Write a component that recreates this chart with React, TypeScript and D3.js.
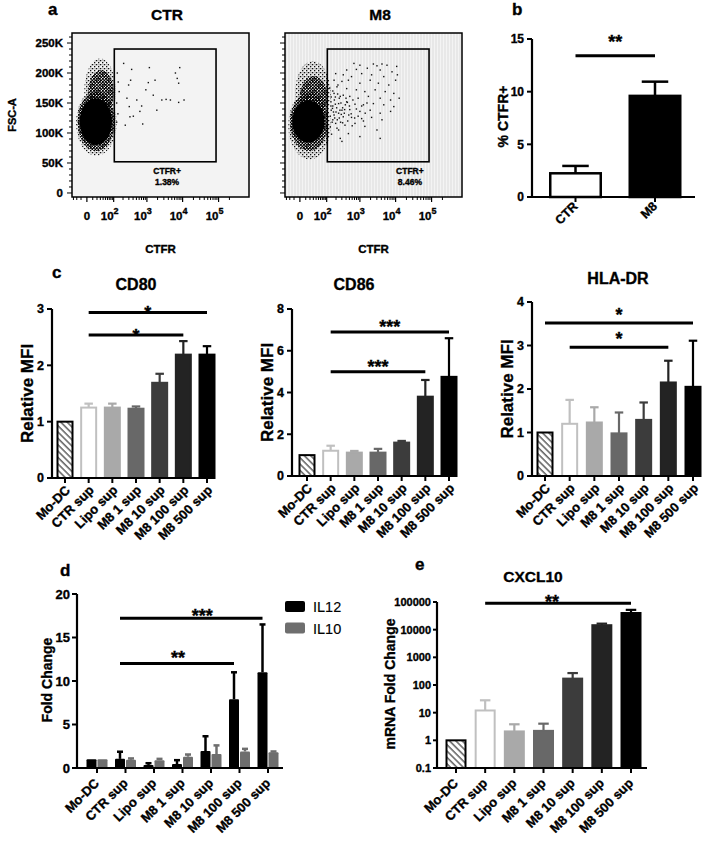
import React from "react";
import * as d3 from "d3";

const FONT = "'Liberation Sans', Arial, Helvetica, sans-serif";

// ---------------- Panel a : flow cytometry ----------------
const flowSamples = ["CTR", "M8"];
const flowGatePercent = ["1.38%", "8.46%"];
const fscTickValues = [0, 50000, 100000, 150000, 200000, 250000];
const fscTickLabels = ["0", "50K", "100K", "150K", "200K", "250K"];
const ctfrMajorTicks = [0, 100, 1000, 10000, 100000];
const ctfrMajorExponents = ["", "2", "3", "4", "5"];
const ctfrLinearMinor = [-30, -20, -10, 10, 20, 30, 40, 50, 60, 70, 80, 90];
const gateCTFR = [105, 85000];
const gateFSC = [52000, 240000];
const gateLabelCTFR = [3700, 25000];
// event cloud outlines: [CTFR lo, CTFR hi, FSC lo, FSC hi, density level]
const ctrCloud = [
  [-22, 125, 62000, 172000, 0],
  [-4, 118, 115000, 224000, 0],
  [-18, 108, 70000, 168000, 1],
  [2, 100, 130000, 205000, 1],
  [-13, 88, 80000, 158000, 2],
];
const m8Cloud = [
  [-24, 135, 56000, 170000, 0],
  [-8, 135, 110000, 220000, 0],
  [-19, 110, 70000, 166000, 1],
  [0, 105, 125000, 195000, 1],
  [-14, 85, 84000, 154000, 2],
];
// sparse events: [log10 CTFR, FSC (K)]
const ctrEvents = [
  [2.32, 216], [2.56, 206], [3.07, 209], [3.92, 209], [3.8, 200], [3.85, 191],
  [2.53, 188], [3.23, 188], [3.04, 184], [2.47, 180], [3.89, 183], [2.97, 172],
  [2.18, 169], [2.42, 158], [2.71, 155], [3.18, 163], [3.54, 156], [3.66, 155],
  [3.42, 155], [3.89, 151], [4.04, 155], [2.49, 144], [2.85, 145], [3.28, 138],
  [2.8, 136], [2.51, 127], [2.61, 128], [2.88, 115], [2.37, 113], [2.12, 200],
  [2.15, 185], [2.1, 150], [2.14, 132], [2.1, 118],
];
const m8Events = [
  [2.83, 216], [3.0, 213], [3.38, 215], [3.48, 212], [3.62, 215], [3.76, 213], [4.03, 211],
  [2.62, 205], [2.9, 206], [3.21, 208], [3.57, 205], [3.9, 202], [2.29, 199], [2.52, 197],
  [2.76, 194], [3.05, 199], [3.33, 197], [3.67, 194], [4.05, 197], [2.24, 188], [2.48, 186],
  [2.67, 188], [3.0, 183], [3.29, 188], [3.52, 183], [3.81, 180], [4.0, 188], [2.33, 177],
  [2.62, 174], [2.9, 172], [3.14, 169], [3.43, 172], [3.71, 169], [3.95, 166], [2.24, 166],
  [2.43, 161], [2.71, 161], [2.95, 158], [3.24, 161], [3.57, 158], [3.86, 155], [4.1, 158],
  [2.14, 152], [2.38, 149], [2.62, 152], [2.86, 148], [3.1, 147], [3.38, 149], [3.67, 147],
  [3.95, 144], [2.19, 141], [2.48, 138], [2.71, 139], [3.0, 136], [3.29, 138], [3.57, 133],
  [3.86, 136], [2.24, 130], [2.52, 127], [2.76, 126], [3.05, 124], [3.33, 126], [3.62, 122],
  [2.29, 116], [2.57, 113], [2.86, 116], [3.14, 111], [3.48, 105], [2.38, 105], [2.67, 99],
  [2.43, 91], [3.0, 94], [3.57, 91], [2.48, 86], [2.15, 160], [2.2, 145], [2.25, 155],
  [2.3, 135], [2.35, 165], [2.4, 125], [2.45, 150], [2.5, 142], [2.55, 133], [2.6, 158],
  [2.65, 120], [2.7, 145], [2.75, 132], [2.8, 155], [2.85, 125], [2.9, 140], [2.12, 128],
  [2.18, 118], [2.28, 148], [2.33, 108], [2.42, 138], [2.5, 117], [2.58, 147], [2.68, 130],
  [2.78, 112], [2.95, 128], [3.05, 145], [3.15, 133], [3.2, 150], [3.1, 120], [2.2, 170],
  [2.36, 180], [2.15, 138], [2.26, 125], [2.4, 158], [2.1, 175], [2.12, 110], [2.16, 98],
  [2.22, 135], [2.32, 142], [2.46, 131], [2.56, 139], [2.64, 151], [2.34, 122], [2.2, 122],
  [2.28, 160], [2.52, 163], [2.44, 118], [2.14, 145], [2.38, 133],
];

// ---------------- Panel b ----------------
const bCategories = ["CTR", "M8"];
const bValues = [2.25, 9.6];
const bErrors = [2.95, 10.95];
const bTicks = [0, 5, 10, 15];
const bSig: [string, string, number, string][] = [["CTR", "M8", 13.4, "**"]];

// ---------------- Panel c ----------------
const groups = ["Mo-DC", "CTR sup", "Lipo sup", "M8 1 sup", "M8 10 sup", "M8 100 sup", "M8 500 sup"];
const groupFill = ["url(#hatch)", "#ffffff", "#a9a9a9", "#686868", "#3c3c3c", "#232323", "#000000"];
const groupStroke = ["#000000", "#c0c0c0", "#a9a9a9", "#686868", "#3c3c3c", "#232323", "#000000"];

const cd80Values = [1.0, 1.25, 1.25, 1.23, 1.69, 2.19, 2.19];
const cd80Err = [null, 1.32, 1.32, 1.27, 1.85, 2.43, 2.34];
const cd80Ticks = [0, 1, 2, 3];
const cd80Sig: [string, string, number, string][] = [
  ["CTR sup", "M8 100 sup", 2.54, "*"],
  ["CTR sup", "M8 500 sup", 2.94, "*"],
];

const cd86Values = [1.0, 1.21, 1.12, 1.12, 1.6, 3.8, 4.75];
const cd86Err = [null, 1.45, 1.2, 1.3, 1.68, 4.6, 6.6];
const cd86Ticks = [0, 2, 4, 6, 8];
const cd86Sig: [string, string, number, string][] = [
  ["CTR sup", "M8 100 sup", 5.0, "***"],
  ["CTR sup", "M8 500 sup", 6.9, "***"],
];

const hlaValues = [1.0, 1.2, 1.23, 0.98, 1.29, 2.15, 2.05];
const hlaErr = [null, 1.75, 1.58, 1.46, 1.69, 2.65, 3.11];
const hlaTicks = [0, 1, 2, 3, 4];
const hlaSig: [string, string, number, string][] = [
  ["Mo-DC", "M8 500 sup", 3.52, "*"],
  ["CTR sup", "M8 100 sup", 2.96, "*"],
];

// ---------------- Panel d ----------------
const cytokines = ["IL12", "IL10"];
const cytokineColors = ["#000000", "#6e6e6e"];
const il12Values = [1.0, 1.05, 0.35, 0.45, 1.95, 7.9, 11.0];
const il12Err = [null, 1.87, 0.55, 0.9, 3.65, 11.0, 16.5];
const il10Values = [1.0, 0.95, 0.9, 1.3, 1.6, 1.9, 1.8];
const il10Err = [null, 1.1, 1.05, 1.55, 2.6, 2.2, 1.9];
const dTicks = [0, 5, 10, 15, 20];
const dSig: [string, string, number, string][] = [
  ["CTR sup", "M8 100 sup", 12.0, "**"],
  ["CTR sup", "M8 500 sup", 17.2, "***"],
];

// ---------------- Panel e ----------------
const cxcl10Values = [1, 12, 2.1, 2.2, 170, 14500, 40000];
const cxcl10Err = [null, 28, 3.8, 4.0, 270, 16500, 52000];
const eTicks = [0.1, 1, 10, 100, 1000, 10000, 100000];
const eTickLabels = ["0.1", "1", "10", "100", "1000", "10000", "100000"];
const eSig: [string, string, number, string][] = [["CTR sup", "M8 500 sup", 91000, "**"]];

// ============================================================

function FlowPlot({ idx, ox }: { idx: number; ox: number }) {
  const x = d3.scaleSymlog().constant(22).domain([-35, 700000]).range([72 + ox, 249 + ox]);
  const y = d3.scaleLinear().domain([-6700, 266700]).range([197, 33]);
  const cloud = idx === 0 ? ctrCloud : m8Cloud;
  const events = idx === 0 ? ctrEvents : m8Events;
  const [xl, xr] = x.range();
  const [yb, yt] = y.range();
  const minorX: number[] = [...ctfrLinearMinor];
  [100, 1000, 10000].forEach((dec) => d3.range(2, 10).forEach((m) => minorX.push(dec * m)));
  minorX.push(200000);
  const minorY = d3.range(0, 260001, 10000);
  const cloudFill = ["url(#dotsSparse)", "url(#dotsDense)", "#000"];
  const midX = (xl + xr) / 2;
  return (
    <g>
      <text x={idx === 0 ? 167 : 380} y={20} textAnchor="middle" fontSize={15.5} fontWeight="bold">
        {flowSamples[idx]}
      </text>
      <rect x={xl} y={yt} width={xr - xl} height={yb - yt} fill={idx === 0 ? "#f3f3f3" : "url(#stripes)"} />
      <clipPath id={`flowclip${idx}`}>
        <rect x={xl} y={yt} width={xr - xl} height={yb - yt} />
      </clipPath>
      <g clipPath={`url(#flowclip${idx})`}>
        {cloud.map((c, i) => {
          const x0 = x(c[0]), x1 = x(c[1]), y0 = y(c[2]), y1 = y(c[3]);
          return (
            <ellipse key={i} cx={(x0 + x1) / 2} cy={(y0 + y1) / 2} rx={(x1 - x0) / 2} ry={(y0 - y1) / 2} fill={cloudFill[c[4]]} />
          );
        })}
        {events.map((e, i) => (
          <rect key={i} x={x(Math.pow(10, e[0])) - 0.7} y={y(e[1] * 1000) - 0.7} width={1.4} height={1.4} fill="#111" />
        ))}
      </g>
      <rect x={xl} y={yt} width={xr - xl} height={yb - yt} fill="none" stroke="#000" strokeWidth={1.5} />
      <rect x={x(gateCTFR[0])} y={y(gateFSC[1])} width={x(gateCTFR[1]) - x(gateCTFR[0])} height={y(gateFSC[0]) - y(gateFSC[1])} fill="none" stroke="#000" strokeWidth={1.6} />
      <text x={x(gateLabelCTFR[idx])} y={174} textAnchor="middle" fontSize={8.5} fontWeight="bold">CTFR+</text>
      <text x={x(gateLabelCTFR[idx])} y={185} textAnchor="middle" fontSize={8.5} fontWeight="bold">{flowGatePercent[idx]}</text>
      {minorY.map((t) => (
        <line key={t} x1={xl} x2={xl - (t % 50000 === 0 ? 5 : 3)} y1={y(t)} y2={y(t)} stroke="#000" strokeWidth={1} />
      ))}
      {idx === 0 &&
        fscTickValues.map((t, i) => (
          <text key={t} x={63} y={y(t) + 4} textAnchor="end" fontSize={11.5} fontWeight="bold">
            {fscTickLabels[i]}
          </text>
        ))}
      {minorX.map((t) => (
        <line key={t} x1={x(t)} x2={x(t)} y1={yb} y2={yb + 3} stroke="#000" strokeWidth={1} />
      ))}
      {ctfrMajorTicks.map((t) => (
        <line key={"M" + t} x1={x(t)} x2={x(t)} y1={yb} y2={yb + 5} stroke="#000" strokeWidth={1.2} />
      ))}
      {ctfrMajorTicks.map((t, i) => (
        <text key={"L" + t} x={x(t) - (i === 0 ? 0 : 4)} y={220} textAnchor="middle" fontSize={11.5} fontWeight="bold">
          {i === 0 ? "0" : "10"}
          {i > 0 && (
            <tspan dy={-6} fontSize={9}>
              {ctfrMajorExponents[i]}
            </tspan>
          )}
        </text>
      ))}
      <text x={midX} y={253} textAnchor="middle" fontSize={11.5} fontWeight="bold">CTFR</text>
      {idx === 0 && (
        <text transform={`translate(15.5,115) rotate(-90)`} textAnchor="middle" fontSize={11} fontWeight="bold">
          FSC-A
        </text>
      )}
    </g>
  );
}

function Star({ x, y, label, size = 18 }: { x: number; y: number; label: string; size?: number }) {
  return (
    <text x={x} y={y} textAnchor="middle" fontSize={size} fontWeight="bold">
      {label}
    </text>
  );
}

function PanelB() {
  const x = d3.scalePoint<string>().domain(bCategories).range([575.5, 655]);
  const y = d3.scaleLinear().domain([0, 15]).range([197, 39]);
  const bw = 53;
  return (
    <g>
      <text x={512} y={15} fontSize={17} fontWeight="bold">b</text>
      {bValues.map((v, i) => {
        const cx = x(bCategories[i])!;
        const col = i === 0 ? "#fff" : "#000";
        return (
          <g key={i}>
            <line x1={cx} x2={cx} y1={y(v)} y2={y(bErrors[i])} stroke="#000" strokeWidth={2.5} />
            <line x1={cx - bw / 4} x2={cx + bw / 4} y1={y(bErrors[i])} y2={y(bErrors[i])} stroke="#000" strokeWidth={2.5} />
            <rect x={cx - bw / 2 + 1.25} y={y(v)} width={bw - 2.5} height={y(0) - y(v)} fill={col} stroke="#000" strokeWidth={2.5} />
          </g>
        );
      })}
      <line x1={532} x2={532} y1={y(0) + 1} y2={y(15)} stroke="#000" strokeWidth={2.2} />
      <line x1={531} x2={695} y1={y(0)} y2={y(0)} stroke="#000" strokeWidth={2.2} />
      {bTicks.map((t) => (
        <g key={t}>
          <line x1={527} x2={532} y1={y(t)} y2={y(t)} stroke="#000" strokeWidth={2} />
          <text x={524} y={y(t) + 4.3} textAnchor="end" fontSize={12} fontWeight="bold">{t}</text>
        </g>
      ))}
      {bCategories.map((c) => (
        <g key={c}>
          <line x1={x(c)!} x2={x(c)!} y1={y(0)} y2={y(0) + 5} stroke="#000" strokeWidth={2} />
          <text transform={`translate(${x(c)! + 3},${y(0) + 10}) rotate(-45)`} textAnchor="end" fontSize={12.5} fontWeight="bold">
            {c}
          </text>
        </g>
      ))}
      {bSig.map((s, i) => (
        <g key={i}>
          <line x1={x(s[0])!} x2={x(s[1])!} y1={y(s[2])} y2={y(s[2])} stroke="#000" strokeWidth={3} />
          <Star x={(x(s[0])! + x(s[1])!) / 2} y={y(s[2]) - 8} label={s[3]} />
        </g>
      ))}
      <text transform={`translate(508,116.5) rotate(-90)`} textAnchor="middle" fontSize={14} fontWeight="bold">
        % CTFR+
      </text>
    </g>
  );
}

type Sig = [string, string, number, string];

function MfiPanel(p: {
  title: string; titleX: number; titleY: number;
  values: number[]; errs: (number | null)[];
  domainMax: number; ticks: number[];
  cx0: number; cx1: number; ax0: number; ax1: number;
  y0: number; y1: number; barW: number; sigs: Sig[]; starDy: number;
}) {
  const x = d3.scalePoint<string>().domain(groups).range([p.cx0, p.cx1]);
  const y = d3.scaleLinear().domain([0, p.domainMax]).range([p.y0, p.y1]);
  const bw = p.barW;
  return (
    <g>
      <text x={p.titleX} y={p.titleY} textAnchor="middle" fontSize={16} fontWeight="bold">{p.title}</text>
      {p.values.map((v, i) => {
        const cx = x(groups[i])!;
        const e = p.errs[i];
        return (
          <g key={i}>
            {e != null && (
              <g>
                <line x1={cx} x2={cx} y1={y(v)} y2={y(e)} stroke={groupStroke[i]} strokeWidth={2.2} />
                <line x1={cx - bw / 4} x2={cx + bw / 4} y1={y(e)} y2={y(e)} stroke={groupStroke[i]} strokeWidth={2.2} />
              </g>
            )}
            <rect x={cx - bw / 2 + 1} y={y(v)} width={bw - 2} height={p.y0 - y(v)} fill={groupFill[i]} stroke={groupStroke[i]} strokeWidth={2} />
          </g>
        );
      })}
      <line x1={p.ax0} x2={p.ax0} y1={p.y0 + 1} y2={p.y1} stroke="#000" strokeWidth={2.2} />
      <line x1={p.ax0 - 1} x2={p.ax1} y1={p.y0} y2={p.y0} stroke="#000" strokeWidth={2.2} />
      {p.ticks.map((t) => (
        <g key={t}>
          <line x1={p.ax0 - 5} x2={p.ax0} y1={y(t)} y2={y(t)} stroke="#000" strokeWidth={2} />
          <text x={p.ax0 - 8} y={y(t) + 4.4} textAnchor="end" fontSize={12.5} fontWeight="bold">{t}</text>
        </g>
      ))}
      {groups.map((g) => (
        <g key={g}>
          <line x1={x(g)!} x2={x(g)!} y1={p.y0} y2={p.y0 + 5} stroke="#000" strokeWidth={2} />
          <text transform={`translate(${x(g)! + 6},${p.y0 + 13}) rotate(-45)`} textAnchor="end" fontSize={13} fontWeight="bold">
            {g}
          </text>
        </g>
      ))}
      {p.sigs.map((s, i) => (
        <g key={i}>
          <line x1={x(s[0])!} x2={x(s[1])!} y1={y(s[2])} y2={y(s[2])} stroke="#000" strokeWidth={3} />
          <Star x={(x(s[0])! + x(s[1])!) / 2} y={y(s[2]) + p.starDy} label={s[3]} />
        </g>
      ))}
      <text transform={`translate(${p.ax0 - 19},${(p.y0 + p.y1) / 2}) rotate(-90)`} textAnchor="middle" fontSize={17} fontWeight="bold">
        Relative MFI
      </text>
    </g>
  );
}

function PanelD() {
  const x = d3.scalePoint<string>().domain(groups).range([97, 268]);
  const y = d3.scaleLinear().domain([0, 20]).range([768, 594]);
  const bw = 10;
  const series = [
    { v: il12Values, e: il12Err, off: -5.5 },
    { v: il10Values, e: il10Err, off: 5.5 },
  ];
  return (
    <g>
      <text x={60} y={576} fontSize={17} fontWeight="bold">d</text>
      {series.map((s, si) =>
        s.v.map((v, i) => {
          const cx = x(groups[i])! + s.off;
          const e = s.e[i];
          const col = cytokineColors[si];
          return (
            <g key={si + "-" + i}>
              {e != null && (
                <g>
                  <line x1={cx} x2={cx} y1={y(v)} y2={y(e)} stroke={col} strokeWidth={2.5} />
                  <line x1={cx - 3} x2={cx + 3} y1={y(e)} y2={y(e)} stroke={col} strokeWidth={2.5} />
                </g>
              )}
              <rect x={cx - bw / 2} y={y(v)} width={bw} height={768 - y(v)} fill={col} rx={1} />
            </g>
          );
        })
      )}
      <line x1={77} x2={77} y1={769} y2={594} stroke="#000" strokeWidth={2.2} />
      <line x1={76} x2={283} y1={768} y2={768} stroke="#000" strokeWidth={2.2} />
      {dTicks.map((t) => (
        <g key={t}>
          <line x1={72} x2={77} y1={y(t)} y2={y(t)} stroke="#000" strokeWidth={2} />
          <text x={70} y={y(t) + 4.5} textAnchor="end" fontSize={13} fontWeight="bold">{t}</text>
        </g>
      ))}
      {groups.map((g) => (
        <g key={g}>
          <line x1={x(g)!} x2={x(g)!} y1={768} y2={773} stroke="#000" strokeWidth={2} />
          <text transform={`translate(${x(g)! + 3},${784}) rotate(-45)`} textAnchor="end" fontSize={13} fontWeight="bold">
            {g}
          </text>
        </g>
      ))}
      {dSig.map((s, i) => {
        const a = x(s[0])! - 5.5, b = x(s[1])! - 5.5;
        return (
          <g key={i}>
            <line x1={a} x2={b} y1={y(s[2])} y2={y(s[2])} stroke="#000" strokeWidth={3} />
            <Star x={(a + b) / 2 + (i === 1 ? 11 : 1)} y={y(s[2]) + (i === 1 ? 4 : 0)} label={s[3]} />
          </g>
        );
      })}
      {cytokines.map((c, i) => (
        <g key={c}>
          <rect x={285} y={601 + i * 21.5} width={20} height={11} rx={2} fill={cytokineColors[i]} />
          <text x={313} y={612 + i * 21.5} fontSize={14.5} style={{ strokeWidth: 0.15 }}>{c}</text>
        </g>
      ))}
      <text transform={`translate(52,680) rotate(-90)`} textAnchor="middle" fontSize={14} fontWeight="bold">
        Fold Change
      </text>
    </g>
  );
}

function PanelE() {
  const x = d3.scalePoint<string>().domain(groups).range([456, 631]);
  const y = d3.scaleLog().domain([0.1, 100000]).range([768, 602]);
  const bw = 21;
  return (
    <g>
      <text x={415} y={570} fontSize={17} fontWeight="bold">e</text>
      <text x={533} y={582} textAnchor="middle" fontSize={15.5} fontWeight="bold">CXCL10</text>
      {cxcl10Values.map((v, i) => {
        const cx = x(groups[i])!;
        const e = cxcl10Err[i];
        return (
          <g key={i}>
            {e != null && (
              <g>
                <line x1={cx} x2={cx} y1={y(v)} y2={y(e)} stroke={groupStroke[i]} strokeWidth={2.2} />
                <line x1={cx - bw / 4} x2={cx + bw / 4} y1={y(e)} y2={y(e)} stroke={groupStroke[i]} strokeWidth={2.2} />
              </g>
            )}
            <rect x={cx - bw / 2 + 1} y={y(v)} width={bw - 2} height={768 - y(v)} fill={groupFill[i]} stroke={groupStroke[i]} strokeWidth={2} />
          </g>
        );
      })}
      <line x1={437} x2={437} y1={769} y2={602} stroke="#000" strokeWidth={2.2} />
      <line x1={436} x2={647} y1={768} y2={768} stroke="#000" strokeWidth={2.2} />
      {eTicks.map((t, i) => (
        <g key={t}>
          <line x1={433} x2={437} y1={y(t)} y2={y(t)} stroke="#000" strokeWidth={2} />
          <text x={431} y={y(t) + 4} textAnchor="end" fontSize={11} fontWeight="bold">{eTickLabels[i]}</text>
        </g>
      ))}
      {groups.map((g) => (
        <g key={g}>
          <line x1={x(g)!} x2={x(g)!} y1={768} y2={773} stroke="#000" strokeWidth={2} />
          <text transform={`translate(${x(g)! + 3},${784}) rotate(-45)`} textAnchor="end" fontSize={13} fontWeight="bold">
            {g}
          </text>
        </g>
      ))}
      {eSig.map((s, i) => (
        <g key={i}>
          <line x1={x(s[0])!} x2={x(s[1])!} y1={y(s[2])} y2={y(s[2])} stroke="#000" strokeWidth={3} />
          <Star x={(x(s[0])! + x(s[1])!) / 2 - 6} y={y(s[2]) + 5} label={s[3]} />
        </g>
      ))}
      <text transform={`translate(395,684) rotate(-90)`} textAnchor="middle" fontSize={14} fontWeight="bold">
        mRNA Fold Change
      </text>
    </g>
  );
}

export default function App() {
  return (
    <svg width={708} height={849} style={{ position: "absolute", left: 0, top: 0, display: "block", background: "#fff" }} fontFamily={FONT}>
      <style>{"text{stroke:#000;stroke-width:0.35px;}"}</style>
      <defs>
        <pattern id="hatch" width={4.5} height={4.5} patternUnits="userSpaceOnUse" patternTransform="rotate(-45)">
          <rect width={4.5} height={4.5} fill="#fff" />
          <line x1={1} y1={0} x2={1} y2={4.5} stroke="#6a6a6a" strokeWidth={1.6} />
        </pattern>
        <pattern id="stripes" width={3} height={10} patternUnits="userSpaceOnUse">
          <rect width={3} height={10} fill="#f4f4f4" />
          <line x1={1} y1={0} x2={1} y2={10} stroke="#dcdcdc" strokeWidth={1} />
        </pattern>
        <pattern id="dotsSparse" width={4} height={4} patternUnits="userSpaceOnUse">
          <rect x={0} y={0} width={1.3} height={1.3} fill="#111" />
          <rect x={2} y={2} width={1.3} height={1.3} fill="#111" />
          <rect x={2.6} y={0.4} width={0.9} height={0.9} fill="#333" />
        </pattern>
        <pattern id="dotsDense" width={3} height={3} patternUnits="userSpaceOnUse">
          <rect x={0} y={0} width={1.8} height={1.8} fill="#000" />
          <rect x={1.5} y={1.5} width={1.5} height={1.5} fill="#000" />
        </pattern>
      </defs>
      <text x={48} y={15} fontSize={17} fontWeight="bold">a</text>
      <FlowPlot idx={0} ox={0} />
      <FlowPlot idx={1} ox={213} />
      <PanelB />
      <text x={52} y={278} fontSize={17} fontWeight="bold">c</text>
      <MfiPanel title="CD80" titleX={136} titleY={290} values={cd80Values} errs={cd80Err} domainMax={3} ticks={cd80Ticks}
        cx0={65} cx1={207} ax0={52} ax1={213} y0={478} y1={309} barW={17} sigs={cd80Sig} starDy={7} />
      <MfiPanel title="CD86" titleX={354} titleY={290} values={cd86Values} errs={cd86Err} domainMax={8} ticks={cd86Ticks}
        cx0={307} cx1={449} ax0={292} ax1={453} y0={476} y1={309} barW={17} sigs={cd86Sig} starDy={1} />
      <MfiPanel title="HLA-DR" titleX={618} titleY={284} values={hlaValues} errs={hlaErr} domainMax={4} ticks={hlaTicks}
        cx0={545} cx1={693} ax0={532} ax1={700} y0={476} y1={302} barW={17} sigs={hlaSig} starDy={-2} />
      <PanelD />
      <PanelE />
    </svg>
  );
}
